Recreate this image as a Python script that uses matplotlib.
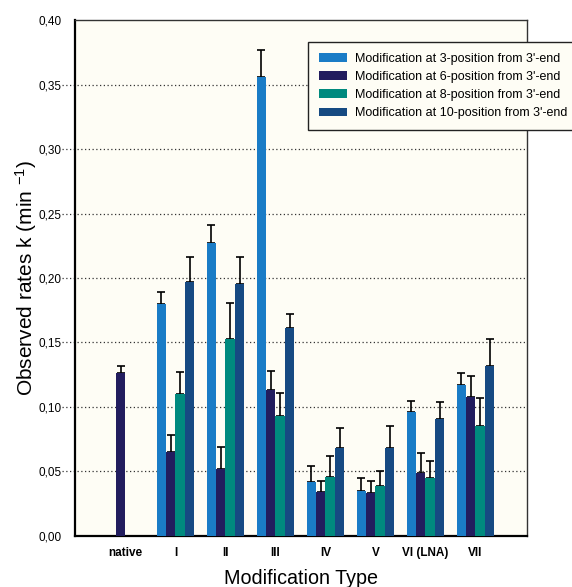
import matplotlib.pyplot as plt
import numpy as np

plt.rcParams['font.family'] = ['Liberation Sans', 'DejaVu Sans']
plt.rcParams['mathtext.default'] = 'regular'

categories = ["native", "I", "II", "III", "IV", "V", "VI (LNA)", "VII"]
series_names = ["Modification at 3-position from 3'-end",
                "Modification at 6-position from 3'-end",
                "Modification at 8-position from 3'-end",
                "Modification at 10-position from 3'-end"]

# rate values (nan = not measured)
pos3 = [np.nan, 0.180, 0.227, 0.356, 0.042, 0.035, 0.096, 0.117]
pos6 = [0.126, 0.065, 0.052, 0.113, 0.034, 0.033, 0.049, 0.108]
pos8 = [np.nan, 0.110, 0.153, 0.093, 0.046, 0.039, 0.045, 0.085]
pos10 = [np.nan, 0.197, 0.195, 0.161, 0.068, 0.068, 0.091, 0.132]

# upper error bars
err3 = [np.nan, 0.009, 0.014, 0.021, 0.012, 0.010, 0.009, 0.009]
err6 = [0.006, 0.013, 0.017, 0.015, 0.009, 0.010, 0.015, 0.016]
err8 = [np.nan, 0.017, 0.028, 0.018, 0.016, 0.011, 0.013, 0.022]
err10 = [np.nan, 0.019, 0.021, 0.011, 0.016, 0.017, 0.013, 0.021]

colors = ["#1a7cc6", "#221d5e", "#008a7e", "#164a82"]
bg = "#fefdf5"

fig = plt.figure(figsize=(5.72, 5.87), dpi=100)
ax = fig.add_axes([0.1311, 0.0869, 0.7902, 0.879])
ax.set_facecolor(bg)

x = np.arange(len(categories))
w = 0.188
values = [pos3, pos6, pos8, pos10]
errors = [err3, err6, err8, err10]
handles = []
for i, (vals, errs) in enumerate(zip(values, errors)):
    vals = np.array(vals, dtype=float)
    errs = np.array(errs, dtype=float)
    ok = ~np.isnan(vals)
    xs = x[ok] + (i - 1.5) * w
    b = ax.bar(xs, vals[ok], width=w, color=colors[i], zorder=3,
               label=series_names[i])
    ax.errorbar(xs, vals[ok], yerr=[np.zeros(ok.sum()), errs[ok]],
                fmt='none', ecolor='black', elinewidth=1.2, capsize=3.1,
                capthick=1.2, zorder=2)
    handles.append(b)

ax.set_xlim(-1.01, 8.03)
ax.set_ylim(0, 0.40)

yt = np.arange(0, 0.401, 0.05)
ax.set_yticks(yt)
ax.set_yticklabels([f"{v:.2f}".replace('.', ',') for v in yt], fontsize=8.5,
                   family=['Liberation Sans Narrow', 'Liberation Sans'])
ax.tick_params(axis='y', length=0, pad=9.5)
ax.set_xticks(x)
ax.set_xticklabels(categories, fontsize=8.5, fontweight='bold')
ax.tick_params(axis='x', length=0, pad=8)

ax.hlines(yt[1:-1], -0.028, 1, transform=ax.get_yaxis_transform(),
          colors='#333333', linestyles=(0, (1, 2)), linewidth=0.9,
          clip_on=False, zorder=1)

for s in ['left', 'bottom']:
    ax.spines[s].set_linewidth(1.6)
for s in ['top', 'right']:
    ax.spines[s].set_linewidth(1.0)
    ax.spines[s].set_color('#333333')

ax.set_ylabel("Observed rates k (min $^{-1}$)", fontsize=15)
ax.yaxis.set_label_coords(-0.08, 0.5)
ax.set_xlabel("Modification Type", fontsize=14.2, labelpad=7)

leg = fig.legend(handles=handles, loc='upper left',
                 bbox_to_anchor=(308 / 572, 1 - 42 / 587),
                 bbox_transform=fig.transFigure, fontsize=9.0,
                 frameon=True, fancybox=False, handlelength=2.3,
                 handleheight=0.7, handletextpad=0.6, labelspacing=0.5,
                 borderpad=0.85, borderaxespad=0)
leg.get_frame().set_edgecolor('#222222')
leg.get_frame().set_facecolor(bg)
leg.get_frame().set_alpha(1)
leg.get_frame().set_linewidth(1.0)

fig.savefig("out.png", dpi=100, facecolor='white')
